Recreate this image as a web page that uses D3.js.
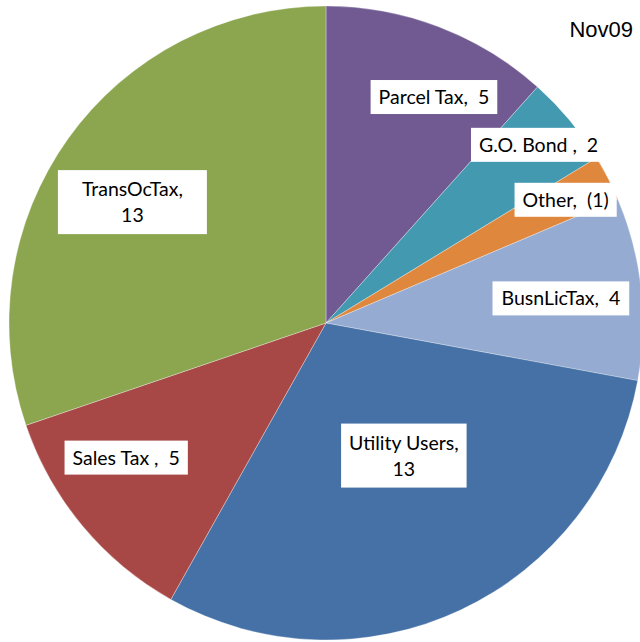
<!DOCTYPE html>
<html>
<head>
<meta charset="utf-8">
<script src="https://cdn.jsdelivr.net/npm/d3@7"></script>
<style>
  body { margin: 0; background: #fff; }
  svg { display: block; }
</style>
</head>
<body>
<svg width="640" height="642"></svg>
<script>
// slice order, clockwise from 12 o'clock
var categories = ["Parcel Tax", "G.O. Bond ", "Other", "BusnLicTax", "Utility Users", "Sales Tax ", "TransOcTax"];
var values = [5, 2, -1, 4, 13, 5, 13];
var colors = ["#715a91", "#4299b0", "#df873d", "#95abd1", "#4571a6", "#a84846", "#8ba64f"];
var title = "Nov09";

// label placement: radius as fraction of pie radius, angle nudge in degrees, two lines or not
var labelR = [0.79, 0.875, 0.85, 0.745, 0.485, 0.76, 0.72];
var labelNudge = [4.6, -0.2, 0, 0.3, -5.3, 5.8, -3.6];
var twoLine = [false, false, false, false, true, false, true];
var padX = [8, 8, 8, 9, 8, 8, 24];

var svg = d3.select("svg"),
    width = +svg.attr("width"),
    height = +svg.attr("height");

var cx = 326, cy = 323, radius = 317;

var data = categories.map(function (c, i) { return { name: c, value: values[i], i: i }; });

var pie = d3.pie()
    .sort(null)
    .value(function (d) { return Math.abs(d.value); });

var arc = d3.arc().innerRadius(0).outerRadius(radius);

var arcs = pie(data);

var g = svg.append("g").attr("transform", "translate(" + cx + "," + cy + ")");

g.selectAll("path")
    .data(arcs)
    .enter()
    .append("path")
    .attr("d", arc)
    .attr("fill", function (d) { return colors[d.data.i]; })
    .attr("stroke", "#ffffff")
    .attr("stroke-opacity", 0.45)
    .attr("stroke-width", 0.7);

function fmt(v) {
    return v < 0 ? "(" + Math.abs(v) + ")" : "" + v;
}

var label = g.selectAll("g.lbl")
    .data(arcs)
    .enter()
    .append("g")
    .attr("class", "lbl")
    .attr("transform", function (d) {
        var i = d.data.i;
        var a = (d.startAngle + d.endAngle) / 2 + labelNudge[i] * Math.PI / 180;
        var r = radius * labelR[i];
        return "translate(" + (Math.sin(a) * r) + "," + (-Math.cos(a) * r) + ")";
    });

label.each(function (d) {
    var sel = d3.select(this);
    var i = d.data.i;
    var lines = twoLine[i] ? [d.data.name + ",", fmt(d.data.value)] : [d.data.name + ",  " + fmt(d.data.value)];
    var lh = 26;
    var rect = sel.append("rect").attr("fill", "#fff");
    var txt = sel.append("text")
        .attr("text-anchor", "middle")
        .attr("font-family", "Lato, 'Open Sans', sans-serif")
        .attr("font-size", "19.5px")
        .attr("fill", "#000")
        .style("white-space", "pre");
    lines.forEach(function (l, k) {
        txt.append("tspan")
            .attr("x", 0)
            .attr("y", (k - (lines.length - 1) / 2) * lh)
            .attr("dy", "0.36em")
            .text(l);
    });
    var w = 0;
    txt.selectAll("tspan").each(function () { w = Math.max(w, this.getComputedTextLength()); });
    var h = lines.length === 1 ? 34 : 64;
    rect.attr("x", -w / 2 - padX[i]).attr("y", -h / 2).attr("width", w + 2 * padX[i]).attr("height", h);
});

svg.append("text")
    .attr("x", 633)
    .attr("y", 37)
    .attr("text-anchor", "end")
    .attr("font-family", "'Liberation Sans', Arial, sans-serif")
    .attr("font-size", "22px")
    .attr("fill", "#000")
    .text(title);
</script>
</body>
</html>
